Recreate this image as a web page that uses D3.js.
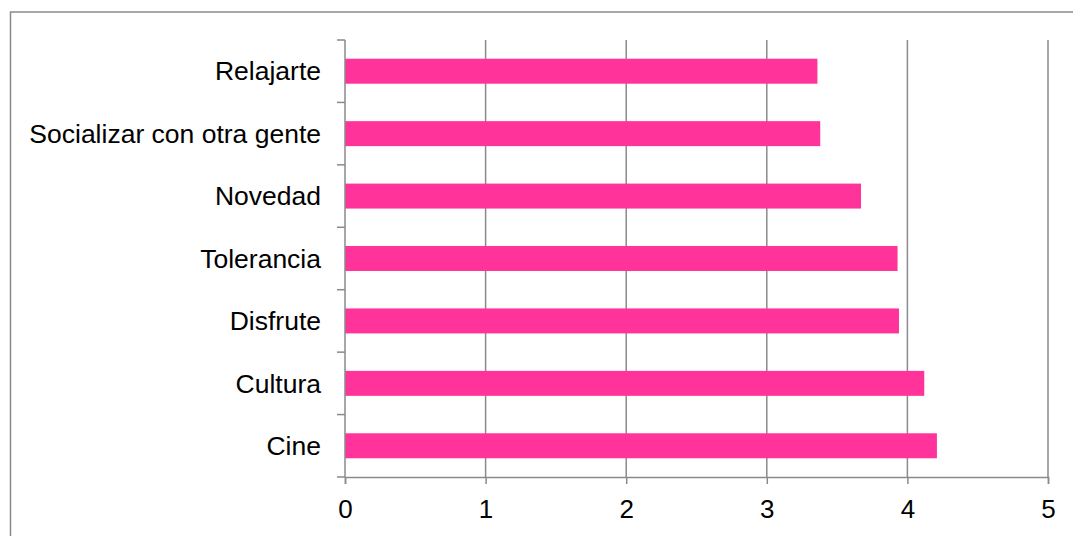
<!DOCTYPE html>
<html>
<head>
<meta charset="utf-8">
<script src="https://cdn.jsdelivr.net/npm/d3@7"></script>
<style>
  body { margin: 0; background: #fff; }
  svg text { font-family: "Liberation Sans", Arial, sans-serif; fill: #000; }
</style>
</head>
<body>
<div id="chart"></div>
<script>
/* Data */
var categories = ["Relajarte", "Socializar con otra gente", "Novedad", "Tolerancia", "Disfrute", "Cultura", "Cine"];
var values = [3.36, 3.38, 3.67, 3.93, 3.94, 4.12, 4.21];
var xTicks = [0, 1, 2, 3, 4, 5];

var width = 1073,
    height = 536;

/* plot area inside the svg */
var plot = { left: 345, right: 1048, top: 40, bottom: 477 };

var svg = d3.select("#chart")
    .append("svg")
    .attr("width", width)
    .attr("height", height);

/* outer frame, open on right and bottom like the picture */
svg.append("rect")
    .attr("x", 10.5)
    .attr("y", 12)
    .attr("width", 1080)
    .attr("height", 600)
    .attr("fill", "none")
    .attr("stroke", "#8a8a8a")
    .attr("stroke-width", 1.5);

var x = d3.scaleLinear().domain([0, 5]).range([plot.left, plot.right]);
var y = d3.scaleBand().domain(categories).range([plot.top, plot.bottom]).paddingInner(0.6).paddingOuter(0.3);

/* vertical gridlines */
svg.selectAll(".grid")
    .data(xTicks.slice(1))
    .enter().append("line")
    .attr("class", "grid")
    .attr("x1", function (d) { return x(d); })
    .attr("x2", function (d) { return x(d); })
    .attr("y1", plot.top)
    .attr("y2", plot.bottom)
    .attr("stroke", "#8a8a8a")
    .attr("stroke-width", 1.5);

/* bars */
svg.selectAll(".bar")
    .data(categories)
    .enter().append("rect")
    .attr("class", "bar")
    .attr("x", x(0))
    .attr("y", function (d) { return y(d); })
    .attr("width", function (d, i) { return x(values[i]) - x(0); })
    .attr("height", y.bandwidth())
    .attr("fill", "#ff3399");

/* x axis */
var xAxis = d3.axisBottom(x)
    .tickValues(xTicks)
    .tickSize(7)
    .tickPadding(16)
    .tickFormat(d3.format("d"));

var gx = svg.append("g")
    .attr("transform", "translate(0," + plot.bottom + ")")
    .call(xAxis);
gx.select(".domain").attr("stroke", "#8a8a8a").attr("stroke-width", 1.5);
gx.selectAll(".tick line").attr("stroke", "#8a8a8a").attr("stroke-width", 1.5);
gx.selectAll("text").style("font-size", "26px").style("font-family", "'Liberation Sans', Arial, sans-serif");

/* y axis: ticks sit at the band edges */
var yEdges = d3.range(categories.length + 1).map(function (i) { return plot.top + i * (plot.bottom - plot.top) / categories.length; });

svg.append("line")
    .attr("x1", plot.left).attr("x2", plot.left)
    .attr("y1", plot.top).attr("y2", plot.bottom)
    .attr("stroke", "#8a8a8a").attr("stroke-width", 1.5);

svg.selectAll(".ytick")
    .data(yEdges)
    .enter().append("line")
    .attr("class", "ytick")
    .attr("x1", plot.left - 8).attr("x2", plot.left)
    .attr("y1", function (d) { return d; })
    .attr("y2", function (d) { return d; })
    .attr("stroke", "#8a8a8a").attr("stroke-width", 1.5);

svg.selectAll(".ylabel")
    .data(categories)
    .enter().append("text")
    .attr("class", "ylabel")
    .attr("x", plot.left - 24)
    .attr("y", function (d) { return y(d) + y.bandwidth() / 2; })
    .attr("dy", "0.35em")
    .attr("text-anchor", "end")
    .style("font-size", "26.5px")
    .text(function (d) { return d; });
</script>
</body>
</html>
